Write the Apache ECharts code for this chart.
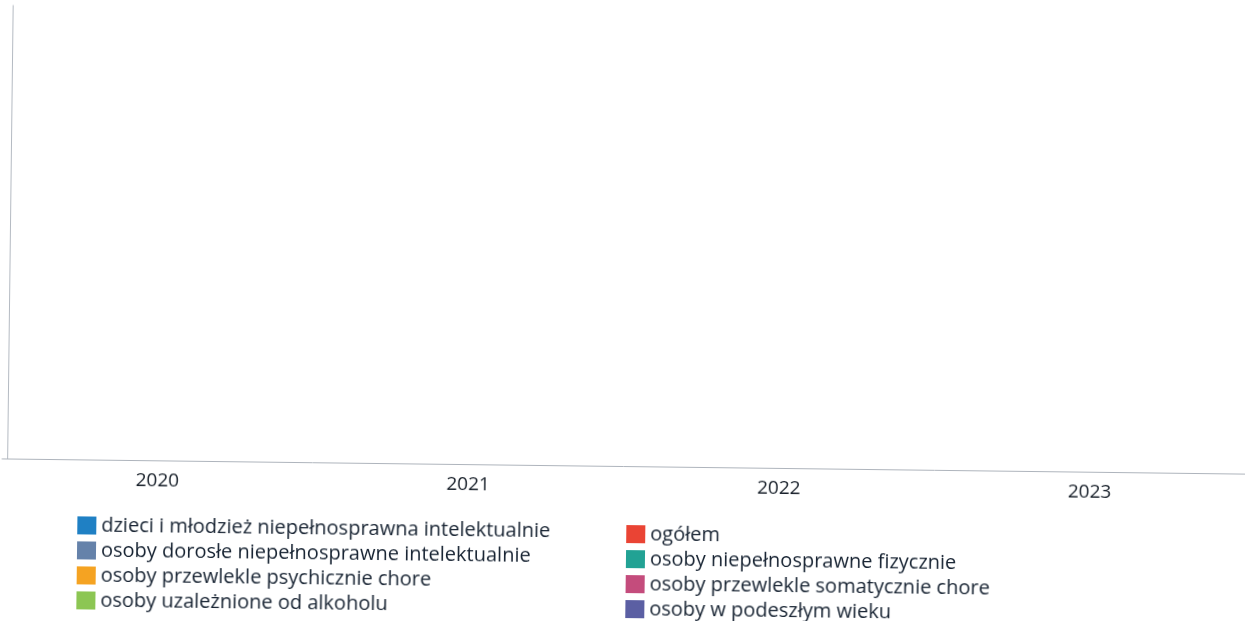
<!DOCTYPE html>
<html>
<head>
<meta charset="utf-8">
<script src="https://cdn.jsdelivr.net/npm/echarts@6/dist/echarts.min.js"></script>
<style>
html,body{margin:0;padding:0;background:#ffffff;overflow:hidden;}
#chart{width:1247px;height:621px;transform:rotate(0.7deg);transform-origin:623px 310px;}
</style>
</head>
<body>
<div id="chart"></div>
<script>
// Categories (years)
var categories = ['2020', '2021', '2022', '2023'];

// Series names (legend labels)
var seriesNames = [
  'dzieci i młodzież niepełnosprawna intelektualnie',
  'osoby dorosłe niepełnosprawne intelektualnie',
  'osoby przewlekle psychicznie chore',
  'osoby uzależnione od alkoholu',
  'ogółem',
  'osoby niepełnosprawne fizycznie',
  'osoby przewlekle somatycznie chore',
  'osoby w podeszłym wieku'
];

// Series values — no bars are visible in the reference, so values are empty
var dzieciValues = [null, null, null, null];
var dorosleValues = [null, null, null, null];
var psychicznieValues = [null, null, null, null];
var alkoholValues = [null, null, null, null];
var ogolemValues = [null, null, null, null];
var fizycznieValues = [null, null, null, null];
var somatycznieValues = [null, null, null, null];
var podeszlyValues = [null, null, null, null];

var seriesValues = [dzieciValues, dorosleValues, psychicznieValues, alkoholValues,
                    ogolemValues, fizycznieValues, somatycznieValues, podeszlyValues];

var colors = ['#1f80c4', '#6582aa', '#f5a322', '#8cc653', '#ea4434', '#22a294', '#c44c7c', '#5b5fa3'];

var chart = echarts.init(document.getElementById('chart'));

var textStyle = {fontFamily: 'Open Sans', fontSize: 20, lineHeight: 20, color: '#172332'};

var option = {
  backgroundColor: '#ffffff',
  animation: false,
  color: colors,
  grid: {left: 4, right: -3, top: 13, bottom: 155, containLabel: false},
  xAxis: {
    type: 'category',
    data: categories,
    axisLine: {show: true, lineStyle: {color: '#aeb4bc', width: 1}},
    axisTick: {show: false},
    axisLabel: {margin: 11, fontFamily: 'Open Sans', fontSize: 19, color: '#161e28'},
    splitLine: {show: false}
  },
  yAxis: {
    type: 'value',
    min: 0,
    max: 1,
    offset: -5,
    axisLine: {show: true, lineStyle: {color: '#b4bac2', width: 1}},
    axisTick: {show: false},
    axisLabel: {show: false},
    splitLine: {show: false}
  },
  legend: [
    {
      orient: 'vertical',
      left: 75,
      top: 517,
      height: 140,
      itemWidth: 19,
      itemHeight: 18,
      itemGap: 5,
      itemStyle: {borderWidth: 0},
      icon: 'rect',
      textStyle: textStyle,
      data: seriesNames.slice(0, 4)
    },
    {
      orient: 'vertical',
      left: 624,
      top: 519,
      height: 140,
      itemWidth: 19,
      itemHeight: 18,
      itemGap: 5,
      itemStyle: {borderWidth: 0},
      icon: 'rect',
      textStyle: textStyle,
      data: seriesNames.slice(4)
    }
  ],
  series: seriesNames.map(function (name, i) {
    return {name: name, type: 'bar', data: seriesValues[i]};
  })
};

chart.setOption(option);
</script>
</body>
</html>
